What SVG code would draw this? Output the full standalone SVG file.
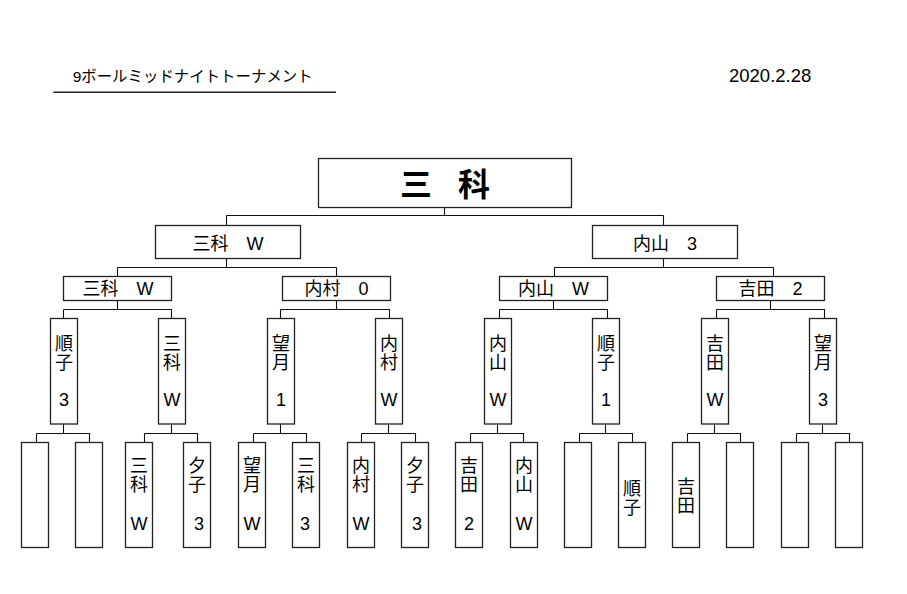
<svg xmlns="http://www.w3.org/2000/svg" width="907" height="594" viewBox="0 0 907 594">
<style>
.bx{fill:#fff;stroke:#222;stroke-width:1.3}
.c{fill:none;stroke:#111;stroke-width:1.1}
.t{font-family:"Liberation Sans","Noto Sans CJK JP",sans-serif;font-size:18px;fill:#000;text-anchor:middle}
.big{font-size:32px;font-weight:bold}
.h{font-family:"Liberation Sans","Noto Sans CJK JP",sans-serif;fill:#000}
</style>
<rect width="907" height="594" fill="#fff"/>
<g id="header">
<text class="h" x="72.7" y="82.3" font-size="15.5" textLength="240" lengthAdjust="spacingAndGlyphs">9ボールミッドナイトトーナメント</text>
<line x1="53.3" y1="92.3" x2="336" y2="92.3" stroke="#222" stroke-width="1.5"/>
<text class="h" x="729" y="81.7" font-size="18.5">2020.2.28</text>
</g>
<g id="connectors" class="c">
<path d="M444.5 207.5V215.5M226.5 215.5H663.5M226.5 215.5V225.5M663.5 215.5V225.5"/>
<path d="M226.5 258.5V267.5M117.5 267.5H336.5M117.5 267.5V276.5M336.5 267.5V276.5"/>
<path d="M663.5 258.5V267.5M554.5 267.5H773.5M554.5 267.5V276.5M773.5 267.5V276.5"/>
<path d="M117.5 300.5V309.5M63.5 309.5H171.5V318.5M63.5 309.5V318.5"/>
<path d="M336.5 300.5V309.5M280.5 309.5H389.5V318.5M280.5 309.5V318.5"/>
<path d="M553.5 300.5V309.5M499.5 309.5H607.5V318.5M499.5 309.5V318.5"/>
<path d="M770.5 300.5V309.5M716.5 309.5H824.5V318.5M716.5 309.5V318.5"/>
<path d="M63.5 424V433.5M36.5 433.5H89.5V442.5M36.5 433.5V442.5"/>
<path d="M171.5 424V433.5M144.5 433.5H197.5V442.5M144.5 433.5V442.5"/>
<path d="M280.5 424V433.5M253.5 433.5H306.5V442.5M253.5 433.5V442.5"/>
<path d="M388.5 424V433.5M361.5 433.5H415.5V442.5M361.5 433.5V442.5"/>
<path d="M497.5 424V433.5M470.5 433.5H523.5V442.5M470.5 433.5V442.5"/>
<path d="M605.5 424V433.5M579.5 433.5H632.5V442.5M579.5 433.5V442.5"/>
<path d="M714.5 424V433.5M687.5 433.5H740.5V442.5M687.5 433.5V442.5"/>
<path d="M822.5 424V433.5M796.5 433.5H849.5V442.5M796.5 433.5V442.5"/>
</g>
<g id="champion">
<rect class="bx" x="318.5" y="158.5" width="253" height="49"/>
<text class="t big" x="445" y="195.5" textLength="90" lengthAdjust="spacing">三　科</text>
</g>
<g id="semi-left"><rect class="bx" x="155.5" y="225.5" width="145" height="33"/><text class="t" x="228" y="249.5">三科　W</text></g>
<g id="semi-right"><rect class="bx" x="592.5" y="225.5" width="145" height="33"/><text class="t" x="665" y="249.5">内山　3</text></g>
<g id="q1"><rect class="bx" x="63.5" y="276.5" width="108" height="24"/><text class="t" x="118" y="295">三科　W</text></g>
<g id="q2"><rect class="bx" x="282.5" y="276.5" width="108" height="24"/><text class="t" x="336.5" y="295">内村　0</text></g>
<g id="q3"><rect class="bx" x="499.5" y="276.5" width="108" height="24"/><text class="t" x="553.5" y="295">内山　W</text></g>
<g id="q4"><rect class="bx" x="716.5" y="276.5" width="108" height="24"/><text class="t" x="770.5" y="295">吉田　2</text></g>
<g id="r1"><rect class="bx" x="50.5" y="318.5" width="27" height="105.5"/><text class="t"><tspan x="64" y="349.5">順</tspan><tspan x="64" y="368.5">子</tspan><tspan x="64" y="406">3</tspan></text></g>
<g id="r2"><rect class="bx" x="158.5" y="318.5" width="27" height="105.5"/><text class="t"><tspan x="172" y="349.5">三</tspan><tspan x="172" y="368.5">科</tspan><tspan x="172" y="406">W</tspan></text></g>
<g id="r3"><rect class="bx" x="267.5" y="318.5" width="27" height="105.5"/><text class="t"><tspan x="281" y="349.5">望</tspan><tspan x="281" y="368.5">月</tspan><tspan x="281" y="406">1</tspan></text></g>
<g id="r4"><rect class="bx" x="375.5" y="318.5" width="27" height="105.5"/><text class="t"><tspan x="389" y="349.5">内</tspan><tspan x="389" y="368.5">村</tspan><tspan x="389" y="406">W</tspan></text></g>
<g id="r5"><rect class="bx" x="484.5" y="318.5" width="27" height="105.5"/><text class="t"><tspan x="498" y="349.5">内</tspan><tspan x="498" y="368.5">山</tspan><tspan x="498" y="406">W</tspan></text></g>
<g id="r6"><rect class="bx" x="592.5" y="318.5" width="27" height="105.5"/><text class="t"><tspan x="606" y="349.5">順</tspan><tspan x="606" y="368.5">子</tspan><tspan x="606" y="406">1</tspan></text></g>
<g id="r7"><rect class="bx" x="701.5" y="318.5" width="27" height="105.5"/><text class="t"><tspan x="715" y="349.5">吉</tspan><tspan x="715" y="368.5">田</tspan><tspan x="715" y="406">W</tspan></text></g>
<g id="r8"><rect class="bx" x="809.5" y="318.5" width="27" height="105.5"/><text class="t"><tspan x="823" y="349.5">望</tspan><tspan x="823" y="368.5">月</tspan><tspan x="823" y="406">3</tspan></text></g>
<g id="p1"><rect class="bx" x="21.5" y="442.5" width="27" height="105"/></g>
<g id="p2"><rect class="bx" x="75.5" y="442.5" width="27" height="105"/></g>
<g id="p3"><rect class="bx" x="125.5" y="442.5" width="27" height="105"/><text class="t"><tspan x="139" y="472">三</tspan><tspan x="139" y="491">科</tspan><tspan x="139" y="530">W</tspan></text></g>
<g id="p4"><rect class="bx" x="183.5" y="442.5" width="27" height="105"/><text class="t"><tspan x="197" y="472">夕</tspan><tspan x="197" y="491">子</tspan><tspan x="199" y="530">3</tspan></text></g>
<g id="p5"><rect class="bx" x="238.5" y="442.5" width="27" height="105"/><text class="t"><tspan x="252" y="472">望</tspan><tspan x="252" y="491">月</tspan><tspan x="252" y="530">W</tspan></text></g>
<g id="p6"><rect class="bx" x="292.5" y="442.5" width="27" height="105"/><text class="t"><tspan x="306" y="472">三</tspan><tspan x="306" y="491">科</tspan><tspan x="305" y="530">3</tspan></text></g>
<g id="p7"><rect class="bx" x="347.5" y="442.5" width="27" height="105"/><text class="t"><tspan x="361" y="472">内</tspan><tspan x="361" y="491">村</tspan><tspan x="361" y="530">W</tspan></text></g>
<g id="p8"><rect class="bx" x="401.5" y="442.5" width="27" height="105"/><text class="t"><tspan x="415" y="472">夕</tspan><tspan x="415" y="491">子</tspan><tspan x="417" y="530">3</tspan></text></g>
<g id="p9"><rect class="bx" x="455.5" y="442.5" width="27" height="105"/><text class="t"><tspan x="469" y="472">吉</tspan><tspan x="469" y="491">田</tspan><tspan x="469" y="530">2</tspan></text></g>
<g id="p10"><rect class="bx" x="510.5" y="442.5" width="27" height="105"/><text class="t"><tspan x="524" y="472">内</tspan><tspan x="524" y="491">山</tspan><tspan x="524" y="530">W</tspan></text></g>
<g id="p11"><rect class="bx" x="564.5" y="442.5" width="27" height="105"/></g>
<g id="p12"><rect class="bx" x="618.5" y="442.5" width="27" height="105"/><text class="t"><tspan x="632" y="494.5">順</tspan><tspan x="632" y="513.5">子</tspan></text></g>
<g id="p13"><rect class="bx" x="672.5" y="442.5" width="27" height="105"/><text class="t"><tspan x="686" y="492.5">吉</tspan><tspan x="686" y="511.5">田</tspan></text></g>
<g id="p14"><rect class="bx" x="726.5" y="442.5" width="27" height="105"/></g>
<g id="p15"><rect class="bx" x="781.5" y="442.5" width="27" height="105"/></g>
<g id="p16"><rect class="bx" x="835.5" y="442.5" width="27" height="105"/></g>
</svg>
